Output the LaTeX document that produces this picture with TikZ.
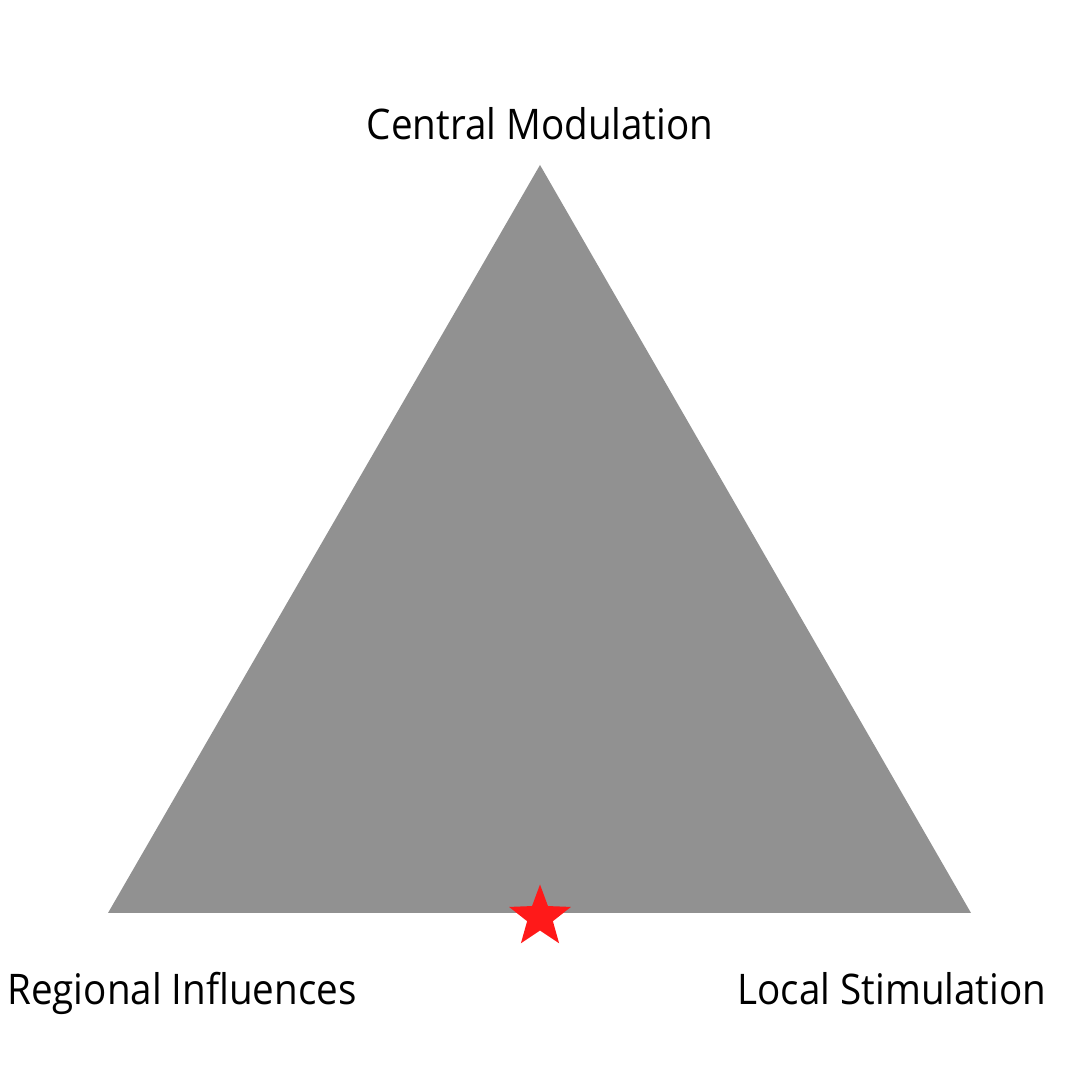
\documentclass[tikz,border=0pt]{standalone}
\usepackage{fontspec}
\setmainfont[FakeStretch=0.915]{Open Sans}
\definecolor{trigray}{RGB}{145, 145, 145}
\definecolor{starred}{RGB}{255, 25, 25}
\usetikzlibrary{shapes.geometric, positioning}

\tikzset{
  corner label/.style={font=\fontsize{12}{14}\selectfont, anchor=base, inner sep=0pt},
  marker star/.style={star, star points=5, star point ratio=2.4, fill=starred, draw=none, minimum size=0.65cm, inner sep=0pt}
}

\begin{document}
\begin{tikzpicture}
  \useasboundingbox (0, 0) rectangle (10.8, 10.8);

  % Triangle corners
  \coordinate (apex) at (5.40, 9.15);
  \coordinate (left) at (1.08, 1.67);
  \coordinate (right) at (9.71, 1.67);
  \fill[trigray] (apex) -- (right) -- (left) -- cycle;

  % Marker on the base
  \node[marker star] (mark) at (5.40, 1.63) {};

  % Labels
  \node[corner label] (central) at (5.40, 9.40) {Central Modulation};
  \node[corner label] (regional) at (1.82, 0.75) {Regional Influences};
  \node[corner label] (local) at (8.92, 0.75) {Local Stimulation};
\end{tikzpicture}
\end{document}
